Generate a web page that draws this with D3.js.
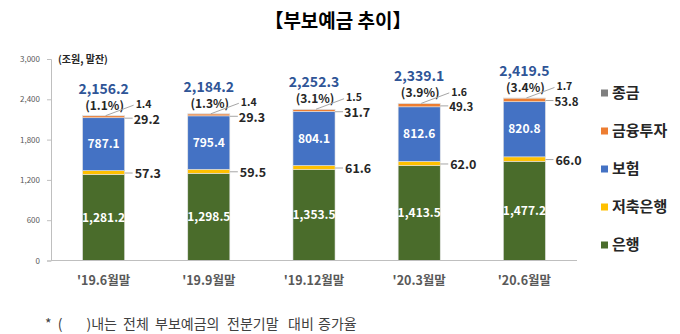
<!DOCTYPE html>
<html><head><meta charset="utf-8">
<script src="https://cdn.jsdelivr.net/npm/d3@7"></script>
<style>
body{margin:0;background:#fff;}
svg{font-family:"Noto Sans CJK KR","Malgun Gothic",sans-serif;}
</style></head>
<body><svg id="c" width="680" height="334"></svg>
<script>
const categories = ["'19.6월말","'19.9월말","'19.12월말","'20.3월말","'20.6월말"];
const bank       = [1281.2, 1298.5, 1353.5, 1413.5, 1477.2];
const savings    = [57.3, 59.5, 61.6, 62.0, 66.0];
const insurance  = [787.1, 795.4, 804.1, 812.6, 820.8];
const investment = [29.2, 29.3, 31.7, 49.3, 53.8];
const merchant   = [1.4, 1.4, 1.5, 1.6, 1.7];
const totals     = [2156.2, 2184.2, 2252.3, 2339.1, 2419.5];
const growth     = ["(1.1%)","(1.3%)","(3.1%)","(3.9%)","(3.4%)"];
const yTicks     = [0, 600, 1200, 1800, 2400, 3000];
const seriesNames = ["은행","저축은행","보험","금융투자","종금"];
const legendOrder = ["종금","금융투자","보험","저축은행","은행"];
const footWords  = [")내는","전체","부보예금의","전분기말","대비","증가율"];
const colors = {"은행":"#4a6c2b","저축은행":"#ffc000","보험":"#4472c4","금융투자":"#ed7d31","종금":"#7f7f7f"};

const svg = d3.select("#c");
const x = d3.scaleBand().domain(categories).range([51,577]).paddingInner(0.6).paddingOuter(0.3);
const y = d3.scaleLinear().domain([0,3000]).range([260.5,59]);
const bw = x.bandwidth();

const rows = categories.map((c,i)=>({cat:c,"은행":bank[i],"저축은행":savings[i],"보험":insurance[i],"금융투자":investment[i],"종금":merchant[i]}));
const stack = d3.stack().keys(seriesNames)(rows);

// title
svg.append("text").attr("x",338).attr("y",28).attr("text-anchor","middle")
  .attr("font-size",19).attr("font-weight","bold").attr("fill","#000").text("【부보예금 추이】");

// unit
svg.append("text").attr("x",58).attr("y",63).attr("font-size",10).attr("font-weight","bold")
  .attr("fill","#262626").text("(조원, 말잔)");

// y axis
const ya = svg.append("g").attr("transform","translate(51,0)")
  .call(d3.axisLeft(y).tickValues(yTicks).tickSize(4).tickPadding(7).tickFormat(d3.format(",")));
ya.select(".domain").attr("stroke","#bfbfbf");
ya.selectAll(".tick line").attr("stroke","#bfbfbf");
ya.selectAll(".tick text").attr("font-size",8).attr("fill","#595959").attr("font-family","'Noto Sans CJK KR',sans-serif");

// bars
stack.forEach(s=>{
  svg.append("g").selectAll("rect").data(s).join("rect")
    .attr("x",d=>x(d.data.cat)).attr("width",bw)
    .attr("y",d=>y(d[1])).attr("height",d=>y(d[0])-y(d[1]))
    .attr("fill",colors[s.key]).attr("stroke","#e3e3e3").attr("stroke-width",0.6);
});

// x axis line
svg.append("line").attr("x1",51).attr("x2",577).attr("y1",y(0)).attr("y2",y(0)).attr("stroke","#bfbfbf");
const xa = svg.append("g").attr("transform",`translate(0,${y(0)})`)
  .call(d3.axisBottom(x).tickSize(0).tickPadding(16));
xa.select(".domain").remove();
xa.selectAll(".tick text").attr("font-size",12.5).attr("font-weight","bold").attr("fill","#595959")
  .attr("font-family","'Noto Sans CJK KR',sans-serif");

const fmt = d3.format(",.1f");
const lead = "#a6a6a6";
const S = {}; stack.forEach(s=>S[s.key]=s);

categories.forEach((c,i)=>{
  const x0 = x(c), xc = x0+bw/2, xr = x0+bw;
  const top = y(totals[i]);
  ["은행","보험"].forEach(k=>{
    const d = S[k][i];
    svg.append("text").attr("x",xc).attr("y",(y(d[0])+y(d[1]))/2).attr("dy","0.35em")
      .attr("text-anchor","middle").attr("font-size",12).attr("font-weight","bold").attr("fill","#fff")
      .text(fmt(d[1]-d[0]));
  });
  svg.append("text").attr("x",xc).attr("y",top-22).attr("text-anchor","middle")
    .attr("font-size",14).attr("font-weight","bold").attr("fill","#2f5597").text(fmt(totals[i]));
  svg.append("text").attr("x",xc+1).attr("y",top-6).attr("text-anchor","middle")
    .attr("font-size",12).attr("font-weight","bold").attr("fill","#262626").text(growth[i]);
  const my = top-11.5, mx = xr+11;
  svg.append("line").attr("x1",xc+2).attr("y1",top).attr("x2",mx-2).attr("y2",my+1).attr("stroke",lead);
  svg.append("text").attr("x",mx).attr("y",my).attr("dy","0.35em").attr("font-size",10.5)
    .attr("font-weight","bold").attr("fill","#262626").text(fmt(merchant[i]));
  const iy = top+3.5;
  svg.append("line").attr("x1",xr).attr("y1",iy-1).attr("x2",xr+8).attr("y2",iy-1).attr("stroke",lead);
  svg.append("text").attr("x",xr+9).attr("y",iy).attr("dy","0.35em").attr("font-size",i<3?12.5:11.5)
    .attr("font-weight","bold").attr("fill","#262626").text(fmt(investment[i]));
  const sd = S["저축은행"][i];
  const sy = (y(sd[0])+y(sd[1]))/2 + 0.5;
  svg.append("line").attr("x1",xr).attr("y1",sy).attr("x2",xr+8).attr("y2",sy).attr("stroke",lead);
  svg.append("text").attr("x",xr+10).attr("y",sy+1).attr("dy","0.35em").attr("font-size",12.5)
    .attr("font-weight","bold").attr("fill","#262626").text(fmt(savings[i]));
});

// legend
const lg = svg.append("g");
legendOrder.forEach((k,i)=>{
  const cy = 93 + i*38;
  lg.append("rect").attr("x",601).attr("y",cy-3.5).attr("width",7).attr("height",7).attr("fill",colors[k]);
  lg.append("text").attr("x",612).attr("y",cy).attr("dy","0.35em").attr("font-size",15)
    .attr("font-weight","bold").attr("fill","#262626").text(k);
});

// footnote
svg.append("text").attr("x",45).attr("y",324).attr("dy","0.35em").attr("font-size",14)
  .attr("fill","#404040").text("*\u00a0\u00a0(");
const foot = svg.append("text").attr("y",324).attr("dy","0.35em").attr("font-size",14)
  .attr("fill","#404040");
const footX = [86.5,123,155,227,288,318];
footWords.forEach((w,i)=>{
  foot.append("tspan").attr("x",footX[i]).text(w);
});
</script></body></html>
